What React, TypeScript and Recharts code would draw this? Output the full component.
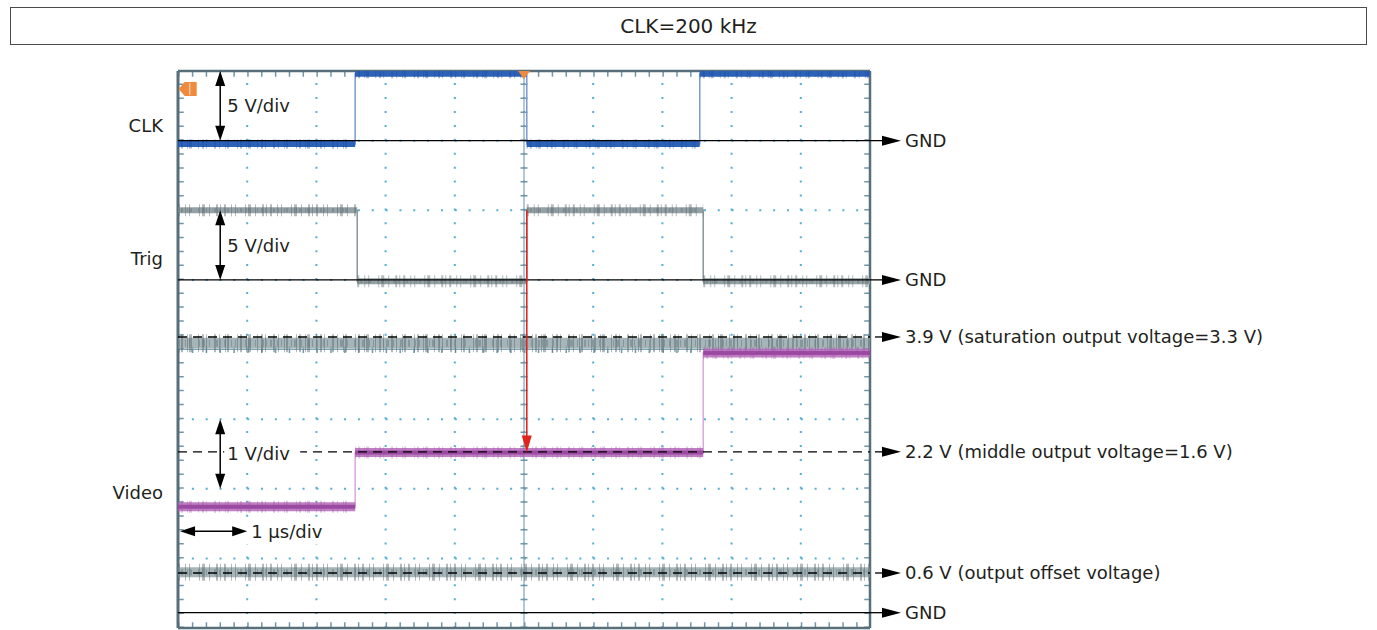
import { Line, LineChart, ReferenceDot, ReferenceLine, XAxis, YAxis } from 'recharts'

const FONT = '"DejaVu Sans", Verdana, sans-serif'

// screen: 10 divisions across at 1 µs/div, 8 divisions high
const timeDivs = [1, 2, 3, 4, 5, 6, 7, 8, 9]
const levelDivs = [1, 2, 3, 5, 6, 7]

// channel setup: ground position (div) and volts per division
const clkGnd = 7
const clkScale = 5
const trigGnd = 5
const trigScale = 5
const videoGnd = 0.22
const videoScale = 1

// traces: edge times in µs, levels in volts
const clkEdges = [0, 2.56, 5.04, 7.54, 10]
const clkLevels = [-0.25, 4.8, -0.25, 4.8]
const trigEdges = [0, 2.59, 5.04, 7.59, 10]
const trigLevels = [5.0, -0.1, 5.0, -0.1]
const videoEdges = [0, 2.56, 7.59, 10]
const videoLevels = [1.52, 2.3, 3.73]
const fullEdges = [0, 10]
const satLevels = [3.87]
const offsetLevels = [0.58]

const channelNames = ['CLK', 'Trig', 'Video']
const channelLabelDivs = [7.22, 5.31, 1.95]

// annotated video levels (volts) and their captions
const markVolts = [3.96, 2.31, 0.57]
const markTexts = [
  '3.9 V (saturation output voltage=3.3 V)',
  '2.2 V (middle output voltage=1.6 V)',
  '0.6 V (output offset voltage)',
]
const triggerTime = 5.04

type Pt = { t: number; y: number | null }

const toDiv = (v: number, gnd: number, scale: number) => gnd + v / scale

function stepPoints(edges: number[], levels: number[], gnd: number, scale: number): Pt[] {
  const pts: Pt[] = levels.map((v, i) => ({ t: edges[i], y: toDiv(v, gnd, scale) }))
  pts.push({ t: edges[edges.length - 1], y: toDiv(levels[levels.length - 1], gnd, scale) })
  return pts
}

function flatPoints(edges: number[], levels: number[], gnd: number, scale: number): Pt[] {
  const pts: Pt[] = []
  levels.forEach((v, i) => {
    const y = toDiv(v, gnd, scale)
    pts.push({ t: edges[i], y }, { t: edges[i + 1], y }, { t: edges[i + 1], y: null })
  })
  return pts
}

// irregular dash patterns used to fake scope noise on the level bands
const NOISE_A = '1 2 2 4 1 1 3 6 1 3 2 2 1 7 2 3 1 5 1 1 2 8'
const NOISE_B = '2 5 1 3 1 9 1 2 3 4 1 6 2 2 1 3'

const arrowLabel = (text: string, dashed: boolean) => (props: any) => {
  const vb = props.viewBox
  if (!vb) return null
  const x0 = vb.x + vb.width
  const y = vb.y
  return (
    <g>
      <line x1={dashed ? x0 + 5 : x0} y1={y} x2={x0 + 14} y2={y} stroke="#000" strokeWidth={1.3} />
      <polygon points={`${x0 + 12},${y - 5} ${x0 + 31},${y} ${x0 + 12},${y + 5}`} fill="#000" />
      <text x={x0 + 35} y={y} dominantBaseline="central" fontSize={18} fontFamily={FONT} fill="#231f20">
        {text}
      </text>
    </g>
  )
}

const vArrow = (text: string) => (p: any) => {
  const top = Math.min(p.y1, p.y2)
  const bot = Math.max(p.y1, p.y2)
  const x = p.x1
  const mid = (top + bot) / 2
  return (
    <g>
      <line x1={x} y1={top + 10} x2={x} y2={bot - 10} stroke="#000" strokeWidth={1.5} />
      <polygon points={`${x},${top} ${x - 5},${top + 15} ${x + 5},${top + 15}`} fill="#000" />
      <polygon points={`${x},${bot} ${x - 5},${bot - 15} ${x + 5},${bot - 15}`} fill="#000" />
      <rect x={x + 4} y={mid - 13} width={76} height={26} fill="#fff" />
      <text x={x + 7} y={mid} dominantBaseline="central" fontSize={18} fontFamily={FONT} fill="#231f20">
        {text}
      </text>
    </g>
  )
}

const hArrow = (text: string) => (p: any) => {
  const left = Math.min(p.x1, p.x2)
  const right = Math.max(p.x1, p.x2)
  const y = p.y1
  return (
    <g>
      <rect x={right - 2} y={y - 13} width={94} height={26} fill="#fff" />
      <line x1={left + 10} y1={y} x2={right - 10} y2={y} stroke="#000" strokeWidth={1.5} />
      <polygon points={`${left},${y} ${left + 15},${y - 5} ${left + 15},${y + 5}`} fill="#000" />
      <polygon points={`${right},${y} ${right - 15},${y - 5} ${right - 15},${y + 5}`} fill="#000" />
      <text x={right + 4} y={y} dominantBaseline="central" fontSize={18} fontFamily={FONT} fill="#231f20">
        {text}
      </text>
    </g>
  )
}

const redArrow = (p: any) => {
  const top = Math.min(p.y1, p.y2)
  const bot = Math.max(p.y1, p.y2)
  const x = p.x1
  return (
    <g>
      <line x1={x} y1={top} x2={x} y2={bot - 12} stroke="#e0251f" strokeWidth={1.6} />
      <polygon points={`${x},${bot} ${x - 5},${bot - 17} ${x + 5},${bot - 17}`} fill="#e0251f" />
    </g>
  )
}

const trigMarker = (p: any) => (
  <polygon points={`${p.cx - 6},${p.cy} ${p.cx + 6},${p.cy} ${p.cx},${p.cy + 8}`} fill="#f08a3c" />
)

const chMarker = (p: any) => (
  <g>
    <path
      d={`M${p.cx - 9},${p.cy} L${p.cx - 3},${p.cy - 7} L${p.cx + 9},${p.cy - 7} L${p.cx + 9},${p.cy + 7} L${p.cx - 3},${p.cy + 7} Z`}
      fill="#f08a3c"
    />
    <line x1={p.cx + 2} y1={p.cy - 6} x2={p.cx + 2} y2={p.cy + 6} stroke="#f7c7a0" strokeWidth={1.5} />
  </g>
)

const lineBase = { dot: false, isAnimationActive: false, dataKey: 'y', activeDot: false, connectNulls: false } as const

export default function App() {
  const clkStep = stepPoints(clkEdges, clkLevels, clkGnd, clkScale)
  const clkFlat = flatPoints(clkEdges, clkLevels, clkGnd, clkScale)
  const trigStep = stepPoints(trigEdges, trigLevels, trigGnd, trigScale)
  const trigFlat = flatPoints(trigEdges, trigLevels, trigGnd, trigScale)
  const videoStep = stepPoints(videoEdges, videoLevels, videoGnd, videoScale)
  const videoFlat = flatPoints(videoEdges, videoLevels, videoGnd, videoScale)
  const satFlat = flatPoints(fullEdges, satLevels, videoGnd, videoScale)
  const offFlat = flatPoints(fullEdges, offsetLevels, videoGnd, videoScale)

  return (
    <div style={{ position: 'absolute', left: 0, top: 0, width: 1377, height: 630, background: '#fff' }}>
      <LineChart
        width={1377}
        height={630}
        margin={{ top: 71, right: 507, bottom: 2, left: 108 }}
        style={{ position: 'absolute', left: 0, top: 0 }}
      >
        <XAxis type="number" dataKey="t" domain={[0, 10]} allowDataOverflow hide />
        <YAxis
          type="number"
          domain={[0, 8]}
          allowDataOverflow
          width={70}
          ticks={channelLabelDivs}
          interval={0}
          tickFormatter={(v: number) => channelNames[channelLabelDivs.indexOf(v)] ?? ''}
          axisLine={false}
          tickLine={false}
          tickMargin={9}
          tick={{ fontSize: 18, fill: '#231f20', fontFamily: FONT }}
        />

        {/* dotted graticule */}
        {timeDivs.map((d) => (
          <ReferenceLine key={`gx${d}`} x={d} stroke="#55aed6" strokeWidth={2} strokeDasharray="2 11.92" />
        ))}
        {levelDivs.map((d) => (
          <ReferenceLine key={`gy${d}`} y={d} stroke="#55aed6" strokeWidth={2} strokeDasharray="2 11.84" />
        ))}
        {/* centre crosshair with minor ticks */}
        <ReferenceLine x={5} stroke="#7fa6b6" strokeWidth={1.2} />
        <ReferenceLine x={5} stroke="#6f98a8" strokeWidth={7} strokeDasharray="1.5 12.42" />
        <ReferenceLine y={4} stroke="#7fa6b6" strokeWidth={1.2} />
        <ReferenceLine y={4} stroke="#6f98a8" strokeWidth={7} strokeDasharray="1.5 12.34" />
        {/* frame */}
        <ReferenceLine x={0.04} stroke="#6f98a8" strokeWidth={6} strokeDasharray="1.5 12.42" />
        <ReferenceLine x={9.96} stroke="#6f98a8" strokeWidth={6} strokeDasharray="1.5 12.42" />
        <ReferenceLine y={7.96} stroke="#6f98a8" strokeWidth={6} strokeDasharray="1.5 12.34" />
        <ReferenceLine y={0.04} stroke="#6f98a8" strokeWidth={6} strokeDasharray="1.5 12.34" />
        <ReferenceLine x={0} stroke="#566f7a" strokeWidth={3} />
        <ReferenceLine x={10} stroke="#566f7a" strokeWidth={2.5} />
        <ReferenceLine y={8} stroke="#566f7a" strokeWidth={2.5} />
        <ReferenceLine y={0} stroke="#566f7a" strokeWidth={2.5} />

        {/* video reference bands (noisy grey) */}
        <Line {...lineBase} data={satFlat} type="linear" stroke="#98a8ad" strokeWidth={11} strokeOpacity={0.85} />
        <Line {...lineBase} data={satFlat} type="linear" stroke="#56676d" strokeWidth={18} strokeOpacity={0.45} strokeDasharray={NOISE_A} />
        <Line {...lineBase} data={satFlat} type="linear" stroke="#6e8086" strokeWidth={7} strokeOpacity={0.55} strokeDasharray={NOISE_B} />
        <Line {...lineBase} data={offFlat} type="linear" stroke="#98a8ad" strokeWidth={10} strokeOpacity={0.85} />
        <Line {...lineBase} data={offFlat} type="linear" stroke="#56676d" strokeWidth={17} strokeOpacity={0.45} strokeDasharray={NOISE_B} />
        <Line {...lineBase} data={offFlat} type="linear" stroke="#6e8086" strokeWidth={6} strokeOpacity={0.55} strokeDasharray={NOISE_A} />

        {/* CLK */}
        <Line {...lineBase} data={clkStep} type="stepAfter" stroke="#7b9ad6" strokeWidth={1.5} />
        <Line {...lineBase} data={clkFlat} type="linear" stroke="#2c62b8" strokeWidth={6} />
        <Line {...lineBase} data={clkFlat} type="linear" stroke="#1d4c9e" strokeWidth={9} strokeOpacity={0.4} strokeDasharray={NOISE_A} />

        {/* Trig */}
        <Line {...lineBase} data={trigStep} type="stepAfter" stroke="#8a9699" strokeWidth={1.5} />
        <Line {...lineBase} data={trigFlat} type="linear" stroke="#95a2a5" strokeWidth={6} />
        <Line {...lineBase} data={trigFlat} type="linear" stroke="#5d6a6e" strokeWidth={12} strokeOpacity={0.45} strokeDasharray={NOISE_B} />
        <Line {...lineBase} data={trigFlat} type="linear" stroke="#6c787b" strokeWidth={4} strokeOpacity={0.5} strokeDasharray={NOISE_A} />

        {/* Video */}
        <Line {...lineBase} data={videoStep} type="stepAfter" stroke="#d9a8dc" strokeWidth={1.5} />
        <Line {...lineBase} data={videoFlat} type="linear" stroke="#b46ab9" strokeWidth={9} strokeOpacity={0.85} />
        <Line {...lineBase} data={videoFlat} type="linear" stroke="#8f3a96" strokeWidth={4} strokeOpacity={0.75} />
        <Line {...lineBase} data={videoFlat} type="linear" stroke="#a04fa6" strokeWidth={12} strokeOpacity={0.3} strokeDasharray={NOISE_A} />

        {/* GND lines */}
        <ReferenceLine y={clkGnd} stroke="#000" strokeWidth={1.3} label={{ content: arrowLabel('GND', false) }} />
        <ReferenceLine y={trigGnd} stroke="#000" strokeWidth={1.3} label={{ content: arrowLabel('GND', false) }} />
        <ReferenceLine y={videoGnd} stroke="#000" strokeWidth={1.3} label={{ content: arrowLabel('GND', false) }} />

        {/* dashed level markers */}
        {markVolts.map((v, i) => (
          <ReferenceLine
            key={`m${i}`}
            y={toDiv(v, videoGnd, videoScale)}
            stroke="#000"
            strokeWidth={1.4}
            strokeDasharray="9 6"
            label={{ content: arrowLabel(markTexts[i], true) }}
          />
        ))}

        {/* scale annotations */}
        <ReferenceLine segment={[{ x: 0.61, y: clkGnd }, { x: 0.61, y: clkGnd + 1 }]} shape={vArrow('5 V/div')} />
        <ReferenceLine segment={[{ x: 0.61, y: trigGnd }, { x: 0.61, y: trigGnd + 1 }]} shape={vArrow('5 V/div')} />
        <ReferenceLine segment={[{ x: 0.61, y: 2 }, { x: 0.61, y: 3 }]} shape={vArrow('1 V/div')} />
        <ReferenceLine segment={[{ x: 0.03, y: 1.39 }, { x: 1.0, y: 1.39 }]} shape={hArrow('1 µs/div')} />

        {/* trigger-to-sample arrow */}
        <ReferenceLine
          segment={[
            { x: triggerTime, y: toDiv(trigLevels[0], trigGnd, trigScale) },
            { x: triggerTime, y: toDiv(videoLevels[1], videoGnd, videoScale) },
          ]}
          shape={redArrow}
        />
        <ReferenceDot x={5} y={8} shape={trigMarker} />
        <ReferenceDot x={0.14} y={7.74} shape={chMarker} />
      </LineChart>
      <div
        style={{
          position: 'absolute',
          left: 10,
          top: 7,
          width: 1357,
          height: 38,
          border: '1px solid #4a4a4a',
          boxSizing: 'border-box',
          display: 'flex',
          alignItems: 'center',
          justifyContent: 'center',
          fontFamily: FONT,
          fontSize: 20,
          color: '#231f20',
        }}
      >
        CLK=200 kHz
      </div>
    </div>
  )
}
